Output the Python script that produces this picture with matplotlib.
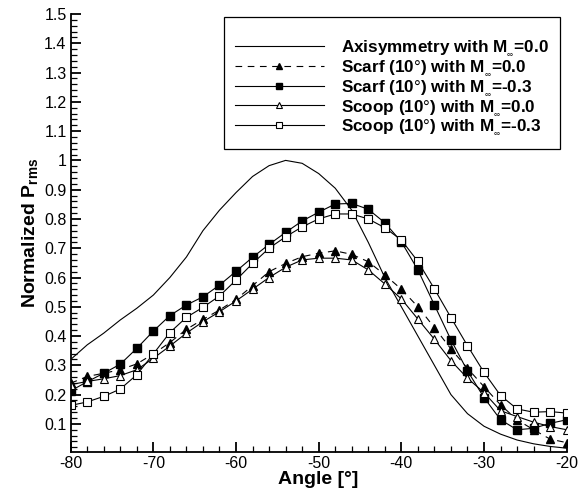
import matplotlib
matplotlib.use("Agg")
import matplotlib.pyplot as plt
import numpy as np
from matplotlib.ticker import MultipleLocator

plt.rcParams['font.family'] = ['Liberation Sans', 'DejaVu Sans']
plt.rcParams['mathtext.fontset'] = 'custom'
plt.rcParams['mathtext.rm'] = 'Liberation Sans'
plt.rcParams['mathtext.bf'] = 'Liberation Sans:bold'
plt.rcParams['axes.unicode_minus'] = False

# angle positions of the measurements
angle = np.arange(-80, -19, 2)

axisym = [0.32, 0.37, 0.41, 0.455, 0.495, 0.54, 0.60, 0.67, 0.76, 0.83,
          0.89, 0.945, 0.982, 1.0, 0.99, 0.955, 0.905, 0.83, 0.72, 0.60,
          0.50, 0.40, 0.30, 0.20, 0.135, 0.092, 0.065, 0.045, 0.032, 0.023, 0.017]

scarf_m0 = [0.239, 0.262, 0.273, 0.285, 0.305, 0.339, 0.378, 0.423, 0.457, 0.489,
            0.525, 0.572, 0.62, 0.648, 0.671, 0.683, 0.691, 0.679, 0.654, 0.609,
            0.56, 0.50, 0.429, 0.356, 0.29, 0.227, 0.165, 0.114, 0.08, 0.048, 0.036]

scarf_m3 = [0.213, 0.244, 0.273, 0.304, 0.358, 0.417, 0.47, 0.506, 0.534, 0.574,
            0.621, 0.669, 0.713, 0.754, 0.793, 0.823, 0.851, 0.853, 0.833, 0.787,
            0.722, 0.626, 0.506, 0.387, 0.281, 0.19, 0.114, 0.08, 0.085, 0.102, 0.114]

scoop_m0 = [0.234, 0.245, 0.254, 0.265, 0.285, 0.324, 0.366, 0.41, 0.449, 0.483,
            0.52, 0.56, 0.60, 0.635, 0.66, 0.666, 0.666, 0.66, 0.626, 0.578,
            0.527, 0.458, 0.389, 0.316, 0.256, 0.207, 0.145, 0.125, 0.106, 0.091, 0.08]

scoop_m3 = [0.163, 0.175, 0.194, 0.219, 0.268, 0.339, 0.412, 0.464, 0.498, 0.537,
            0.591, 0.648, 0.70, 0.739, 0.773, 0.80, 0.817, 0.817, 0.80, 0.77,
            0.728, 0.655, 0.561, 0.463, 0.367, 0.276, 0.197, 0.151, 0.14, 0.142, 0.137]

labels = [r'Axisymmetry with M$_{_\infty}$=0.0',
          r'Scarf (10$\degree$) with M$_{_\infty}$=0.0',
          r'Scarf (10$\degree$) with M$_{_\infty}$=-0.3',
          r'Scoop (10$\degree$) with M$_{_\infty}$=0.0',
          r'Scoop (10$\degree$) with M$_{_\infty}$=-0.3']

fig = plt.figure(figsize=(5.87, 4.96), dpi=100)
ax = fig.add_axes([0.1204, 0.0881, 0.845, 0.8837])

lw = 0.8
ms = 5.5
ax.plot(angle, axisym, '-', color='k', lw=lw, label=labels[0])
ax.plot(angle, scarf_m0, '--', color='k', lw=lw, dashes=(6, 5),
        marker='^', ms=ms, mfc='k', mec='k', label=labels[1])
ax.plot(angle, scarf_m3, '-', color='k', lw=lw,
        marker='s', ms=ms, mfc='k', mec='k', label=labels[2])
ax.plot(angle, scoop_m0, '-', color='k', lw=lw,
        marker='^', ms=ms, mfc='white', mec='k', mew=0.8, label=labels[3])
ax.plot(angle, scoop_m3, '-', color='k', lw=lw,
        marker='s', ms=ms, mfc='white', mec='k', mew=0.8, label=labels[4])

ax.set_xlim(-80, -20)
ax.set_ylim(0.003, 1.5)
ax.set_xticks(np.arange(-80, -19, 10))
ax.set_yticks(np.round(np.arange(0.1, 1.51, 0.1), 1))
ax.set_yticklabels(['0.1', '0.2', '0.3', '0.4', '0.5', '0.6', '0.7', '0.8',
                    '0.9', '1', '1.1', '1.2', '1.3', '1.4', '1.5'])
ax.xaxis.set_minor_locator(MultipleLocator(2))
ax.yaxis.set_minor_locator(MultipleLocator(0.02))

for s in ['top', 'right']:
    ax.spines[s].set_visible(False)
for s in ['left', 'bottom']:
    ax.spines[s].set_linewidth(1.3)

ax.tick_params(which='major', direction='in', length=7.5, width=1.3, labelsize=11.5, pad=3)
ax.tick_params(which='minor', direction='in', length=4.3, width=0.9)

ax.set_xlabel('Angle [°]', fontsize=14, fontweight='bold', labelpad=0)
ax.set_ylabel(r'Normalized P$_{\mathbf{rms}}$', fontsize=14, fontweight='bold', labelpad=2)

leg = ax.legend(loc='upper right', bbox_to_anchor=(0.986, 0.994), borderaxespad=0,
                prop={'weight': 'bold', 'size': 12.3}, handlelength=5.2,
                handletextpad=1.0, labelspacing=0.05, borderpad=0.65,
                fancybox=False, framealpha=1, edgecolor='k',
                markerscale=0.9, numpoints=1, title=' ', title_fontsize=7)
leg.get_frame().set_linewidth(0.9)

fig.savefig('out.png', dpi=100)
